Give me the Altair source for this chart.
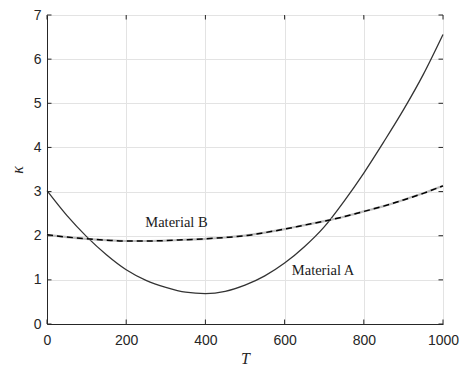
import altair as alt
import pandas as pd

T_A = [0, 50, 100, 150, 200, 250, 300, 350, 400, 450, 500, 550, 600, 650, 700, 750, 800, 850, 900, 950, 1000]
K_A = [3.02, 2.46, 1.98, 1.57, 1.23, 0.99, 0.83, 0.72, 0.69, 0.74, 0.88, 1.09, 1.38, 1.75, 2.2, 2.78, 3.42, 4.12, 4.85, 5.65, 6.56]

T_B = [0, 50, 100, 150, 200, 250, 300, 350, 400, 450, 500, 550, 600, 650, 700, 750, 800, 850, 900, 950, 1000]
K_B = [2.02, 1.97, 1.93, 1.9, 1.88, 1.88, 1.89, 1.91, 1.93, 1.96, 2.0, 2.07, 2.15, 2.24, 2.33, 2.43, 2.55, 2.67, 2.81, 2.96, 3.13]

X_TICKS = [0, 200, 400, 600, 800, 1000]
Y_TICKS = [0, 1, 2, 3, 4, 5, 6, 7]

LABELS = ["Material B", "Material A"]
LABEL_T = [327, 697]
LABEL_K = [2.28, 1.19]

W, H = 396, 309

dfA = pd.DataFrame({"T": T_A, "k": K_A})
dfB = pd.DataFrame({"T": T_B, "k": K_B})
dfX = pd.DataFrame({"T": X_TICKS})
dfY = pd.DataFrame({"k": Y_TICKS})
dfL = pd.DataFrame({"T": LABEL_T, "k": LABEL_K, "label": LABELS})

xs = alt.Scale(domain=[0, 1000], nice=False)
ys = alt.Scale(domain=[0, 7], nice=False)

xaxis = alt.Axis(values=X_TICKS, format="d", ticks=False, labelPadding=9, labelFlush=False,
                 labelFont="Liberation Sans",
                 labelFontSize=14, labelColor="#262626", title="T", titleFont="Liberation Serif",
                 titleFontStyle="italic", titleFontWeight="normal", titleFontSize=16,
                 titleColor="#262626", titlePadding=3, gridColor="#e3e3e3", domainColor="#262626")
yaxis = alt.Axis(values=Y_TICKS, format="d", ticks=False, labelPadding=6, labelFlush=False,
                 labelFont="Liberation Sans",
                 labelFontSize=14, labelColor="#262626", title="κ", titleFont="Liberation Serif",
                 titleFontStyle="italic", titleFontWeight="normal", titleFontSize=16,
                 titleColor="#262626", titlePadding=8, gridColor="#e3e3e3", domainColor="#262626")

base_x = alt.X("T:Q", scale=xs, axis=xaxis)
base_y = alt.Y("k:Q", scale=ys, axis=yaxis)

lineA = alt.Chart(dfA).mark_line(color="#333333", strokeWidth=1.3, interpolate="monotone").encode(x=base_x, y=base_y)
lineB_under = alt.Chart(dfB).mark_line(color="#bdbdbd", strokeWidth=2.2, interpolate="monotone").encode(
    x=alt.X("T:Q", scale=xs), y=alt.Y("k:Q", scale=ys))
lineB_dash = alt.Chart(dfB).mark_line(color="#000000", strokeWidth=1.5, strokeDash=[6, 4], interpolate="monotone").encode(
    x=alt.X("T:Q", scale=xs), y=alt.Y("k:Q", scale=ys))

tick_color = "#262626"
tb = alt.Chart(dfX).mark_rule(color=tick_color, strokeWidth=1).encode(
    x=alt.X("T:Q", scale=xs), y=alt.value(H), y2=alt.value(H - 4.5))
tt = alt.Chart(dfX).mark_rule(color=tick_color, strokeWidth=1).encode(
    x=alt.X("T:Q", scale=xs), y=alt.value(0), y2=alt.value(4.5))
tl = alt.Chart(dfY).mark_rule(color=tick_color, strokeWidth=1).encode(
    y=alt.Y("k:Q", scale=ys), x=alt.value(0), x2=alt.value(4.5))
tr = alt.Chart(dfY).mark_rule(color=tick_color, strokeWidth=1).encode(
    y=alt.Y("k:Q", scale=ys), x=alt.value(W), x2=alt.value(W - 4.5))

labels = alt.Chart(dfL).mark_text(font="Liberation Serif", fontSize=14.5, color="#1a1a1a",
                                  align="center", baseline="middle").encode(
    x=alt.X("T:Q", scale=xs), y=alt.Y("k:Q", scale=ys), text="label:N")

chart = alt.layer(lineA, lineB_under, lineB_dash, tb, tt, tl, tr, labels).properties(
    width=W, height=H,
    autosize=alt.AutoSizeParams(type="none"),
    padding={"left": 39, "top": 7, "right": 17, "bottom": 43},
).configure_view(stroke="#262626", strokeWidth=1).configure(background="white")

chart.save("out.html", embed_options={"renderer": "svg", "actions": False})
